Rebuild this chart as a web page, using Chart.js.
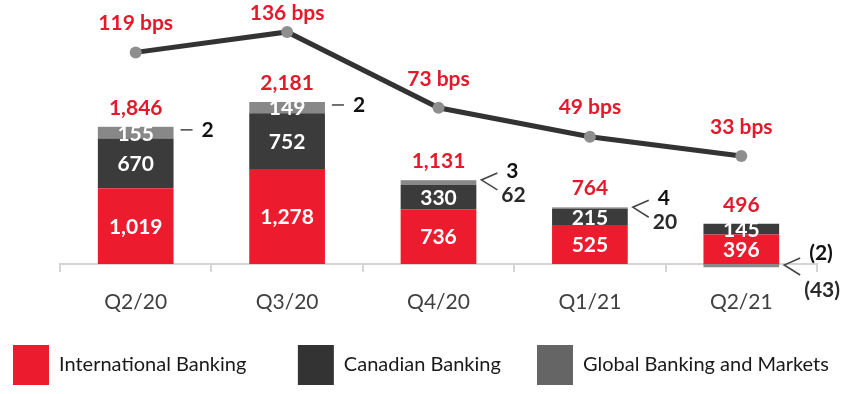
<!DOCTYPE html>
<html><head><meta charset="utf-8">
<script src="https://cdn.jsdelivr.net/npm/chart.js@4.4.1/dist/chart.umd.min.js"></script>
<style>html,body{margin:0;padding:0;background:#fff;overflow:hidden}</style>
</head><body>
<canvas id="c" width="850" height="394"></canvas>
<script>
const categories = ['Q2/20', 'Q3/20', 'Q4/20', 'Q1/21', 'Q2/21'];
const internationalBanking = [1019, 1278, 736, 525, 396];
const canadianBanking = [670, 752, 330, 215, 145];
const globalBankingMarkets = [155, 149, 62, 20, -43];
const otherSegment = [2, 2, 3, 4, -2];
const pclRatioBps = [119, 136, 73, 49, 33];
const seriesNames = ['International Banking', 'Canadian Banking', 'Global Banking and Markets', 'Other'];

const RED = '#ec1c2e';
const LABEL_RED = '#e21a2c';
const FONT = 'Lato';
// trailing spacing after legend texts (visual gap only)
const legendGap = ['    ', ' ', ''];

function fmt(v) {
  const s = Math.abs(v).toLocaleString('en-US');
  return v < 0 ? '(' + s + ')' : s;
}

const labelPlugin = {
  id: 'valueLabels',
  afterDatasetsDraw(chart) {
    const ctx = chart.ctx;
    const yScale = chart.scales.y;
    ctx.save();
    ctx.textAlign = 'center';
    ctx.textBaseline = 'middle';
    ctx.font = 'bold 21px ' + FONT;
    ctx.fillStyle = '#ffffff';
    [1, 2, 3].forEach(di => {
      const meta = chart.getDatasetMeta(di);
      const vals = chart.data.datasets[di].data;
      meta.data.forEach((el, i) => {
        const v = vals[i];
        if (Math.abs(v) < 100) return;
        const p = el.getProps(['x', 'y', 'base'], true);
        ctx.fillText(fmt(v), p.x, (p.y + p.base) / 2 + 1);
      });
    });
    ctx.fillStyle = LABEL_RED;
    categories.forEach((c, i) => {
      const parts = [internationalBanking[i], canadianBanking[i], globalBankingMarkets[i], otherSegment[i]];
      const total = parts.reduce((a, b) => a + b, 0);
      const pos = parts.filter(v => v > 0).reduce((a, b) => a + b, 0);
      const x = chart.getDatasetMeta(1).data[i].x;
      ctx.fillText(fmt(total), x, yScale.getPixelForValue(pos) - 19);
    });
    ctx.strokeStyle = '#444444';
    ctx.lineWidth = 1.5;
    ctx.textAlign = 'left';
    categories.forEach((c, i) => {
      const el = chart.getDatasetMeta(1).data[i].getProps(['x', 'width'], true);
      const right = el.x + el.width / 2;
      const gbm = globalBankingMarkets[i];
      const oth = otherSegment[i];
      const parts = [internationalBanking[i], canadianBanking[i], gbm, oth];
      const pos = parts.filter(v => v > 0).reduce((a, b) => a + b, 0);
      const topY = yScale.getPixelForValue(pos);
      if (Math.abs(gbm) >= 100) {
        ctx.beginPath();
        ctx.moveTo(right + 7, topY + 3);
        ctx.lineTo(right + 19, topY + 3);
        ctx.stroke();
        ctx.fillStyle = '#111111';
        ctx.fillText(fmt(oth), right + 28, topY + 3);
      } else {
        const neg = gbm < 0;
        const ay = neg ? yScale.getPixelForValue(0) + 1 : topY;
        const ax = right + 5;
        ctx.beginPath();
        ctx.moveTo(ax + 16, ay - 7);
        ctx.lineTo(ax, ay);
        ctx.lineTo(ax + 16, ay + 10);
        ctx.stroke();
        ctx.fillStyle = '#111111';
        ctx.fillText(fmt(oth), right + 30, ay + (neg ? -12 : -9));
        ctx.fillStyle = '#2a2a2a';
        ctx.fillText(fmt(gbm), right + 25, ay + (neg ? 25 : 15));
      }
    });
    ctx.textAlign = 'center';
    ctx.fillStyle = LABEL_RED;
    const lm = chart.getDatasetMeta(0);
    lm.data.forEach((pt, i) => {
      ctx.fillText(pclRatioBps[i] + ' bps', pt.x, Math.max(13, pt.y - 29));
    });
    ctx.restore();
  }
};

const defaultGen = Chart.defaults.plugins.legend.labels.generateLabels;

new Chart(document.getElementById('c'), {
  data: {
    labels: categories,
    datasets: [
      {
        type: 'line', label: 'PCL ratio (bps)', data: pclRatioBps, yAxisID: 'y1',
        borderColor: '#333333', borderWidth: 5, tension: 0,
        pointRadius: 6, pointBackgroundColor: '#8e8e8e', pointBorderWidth: 0,
        pointHoverRadius: 6
      },
      { type: 'bar', label: seriesNames[0], data: internationalBanking, backgroundColor: RED, yAxisID: 'y', clip: false },
      { type: 'bar', label: seriesNames[1], data: canadianBanking, backgroundColor: '#3b3b3b', yAxisID: 'y', clip: false },
      { type: 'bar', label: seriesNames[2], data: globalBankingMarkets, backgroundColor: '#888888', yAxisID: 'y', clip: false },
      { type: 'bar', label: seriesNames[3], data: otherSegment, backgroundColor: '#a0a0a0', yAxisID: 'y', clip: false }
    ]
  },
  options: {
    responsive: false,
    animation: false,
    devicePixelRatio: 1,
    layout: { padding: { left: -18, right: -40, top: 10, bottom: -1 } },
    datasets: { bar: { categoryPercentage: 1, barPercentage: 0.5 } },
    scales: {
      x: {
        stacked: true,
        offset: true,
        grid: { display: true, drawOnChartArea: false, drawTicks: true, tickLength: 8, color: '#d4d4d4', lineWidth: 2, offset: true },
        border: { display: true, color: '#d4d4d4', width: 2 },
        ticks: { color: '#404040', font: { family: FONT, size: 21 }, padding: 18 },
        afterFit(s) { s.height = 50; }
      },
      y: {
        stacked: true, min: 0, max: 3419,
        ticks: { display: false }, grid: { display: false }, border: { display: false },
        afterFit(s) { s.width = 78; }
      },
      y1: {
        position: 'right', min: -56.7, max: 154.2,
        ticks: { display: false }, grid: { display: false }, border: { display: false },
        afterFit(s) { s.width = 73; }
      }
    },
    plugins: {
      tooltip: { enabled: false },
      legend: {
        position: 'bottom',
        align: 'start',
        labels: {
          boxWidth: 36, boxHeight: 40, padding: 31,
          color: '#1a1a1a',
          font: { family: FONT, size: 20 },
          generateLabels(chart) {
            return defaultGen(chart)
              .filter(l => l.datasetIndex >= 1 && l.datasetIndex <= 3)
              .map(l => {
                l.lineWidth = 0;
                l.text = l.text + legendGap[l.datasetIndex - 1];
                if (l.datasetIndex === 3) l.fillStyle = '#656565';
                if (l.datasetIndex === 2) l.fillStyle = '#333333';
                return l;
              });
          }
        }
      }
    }
  },
  plugins: [labelPlugin]
});
</script>
</body></html>
